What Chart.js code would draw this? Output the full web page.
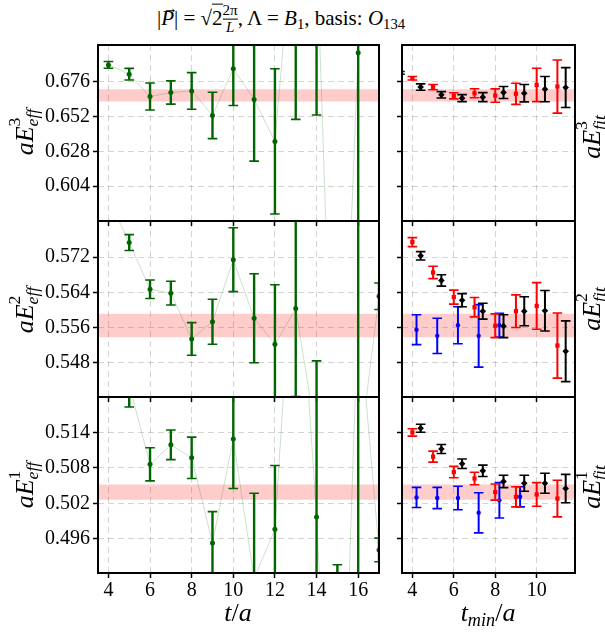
<!DOCTYPE html>
<html>
<head>
<meta charset="utf-8">
<script src="https://cdn.jsdelivr.net/npm/chart.js@4.4.1/dist/chart.umd.min.js"></script>
<style>
body { margin: 0; background: #fff; }
#fig { position: relative; width: 605px; height: 635px; overflow: hidden; font-family: "Liberation Serif", "DejaVu Serif", serif; color: #000; }
#fig canvas { position: absolute; }
.lbl { position: absolute; white-space: nowrap; line-height: 1; transform: translate(-50%, -50%); }
.rot { transform: translate(-50%, -50%) rotate(-90deg); }
.ax { font-size: 26px; }
.ss { display: inline-block; vertical-align: -0.3em; font-size: 0.68em; line-height: 1; text-align: left; }
.ss span { display: block; }
sub { font-size: 0.7em; vertical-align: -0.3em; line-height: 0; }
.vec { position: relative; display: inline-block; }
.arr { position: absolute; left: 0.12em; top: -0.5em; font-size: 0.7em; }
.ovl { border-top: 1px solid #000; padding-top: 1px; }
.frac { display: inline-block; vertical-align: -0.45em; font-size: 0.72em; text-align: center; line-height: 1.05; }
.frac span { display: block; }
.frac .num { border-bottom: 1px solid #000; }
</style>
</head>
<body>
<div id="fig">
  <div class="lbl" style="left:281px;top:19px;font-size:21px">|<span class="vec"><i>P</i><span class="arr">&rarr;</span></span>| = &radic;<span class="ovl">2</span><span class="frac"><span class="num">2&pi;</span><span><i>L</i></span></span>, &Lambda; = <i>B</i><sub>1</sub>, basis: <i>O</i><sub>134</sub></div>

  <canvas id="eff3" width="390" height="216" style="left:0px;top:25px"></canvas>
  <canvas id="eff2" width="390" height="216" style="left:0px;top:201px"></canvas>
  <canvas id="eff1" width="390" height="240" style="left:0px;top:377px"></canvas>
  <canvas id="fit3" width="225" height="216" style="left:380px;top:25px"></canvas>
  <canvas id="fit2" width="225" height="216" style="left:380px;top:201px"></canvas>
  <canvas id="fit1" width="225" height="240" style="left:380px;top:377px"></canvas>

  <div class="lbl rot ax" style="left:24px;top:132px"><i>aE</i><span class="ss"><span>3</span><span><i>eff</i></span></span></div>
  <div class="lbl rot ax" style="left:24px;top:310px"><i>aE</i><span class="ss"><span>2</span><span><i>eff</i></span></span></div>
  <div class="lbl rot ax" style="left:24px;top:485px"><i>aE</i><span class="ss"><span>1</span><span><i>eff</i></span></span></div>
  <div class="lbl rot ax" style="left:591px;top:137px"><i>aE</i><span class="ss"><span>3</span><span><i>fit</i></span></span></div>
  <div class="lbl rot ax" style="left:591px;top:309px"><i>aE</i><span class="ss"><span>2</span><span><i>fit</i></span></span></div>
  <div class="lbl rot ax" style="left:591px;top:487px"><i>aE</i><span class="ss"><span>1</span><span><i>fit</i></span></span></div>

  <div class="lbl ax" style="left:238px;top:613px"><i>t</i>/<i>a</i></div>
  <div class="lbl ax" style="left:488px;top:613px"><i>t</i><sub><i>min</i></sub>/<i>a</i></div>
</div>

<script>
// effective masses vs t/a
const tEff = [4, 5, 6, 7, 8, 9, 10, 11, 12, 13, 14, 15, 16, 17];
const eff3 = [0.6875, 0.6811, 0.6657, 0.6685, 0.6696, 0.6527, 0.6849, 0.6637, 0.6348, 0.80, 0.77, 0.34, 0.6959, null];
const eff3Err = [0.0023, 0.004, 0.0093, 0.008, 0.0126, 0.016, 0.0254, 0.0425, 0.050, 0.15, 0.117, 0.10, 0.25, 0];
const eff2 = [0.5853, 0.5753, 0.5647, 0.5638, 0.5534, 0.5573, 0.5714, 0.5581, 0.5522, 0.5603, 0.5306, 0.515, 0.525, 0.5631];
const eff2Err = [0.0012, 0.0018, 0.0021, 0.0027, 0.0037, 0.0051, 0.00725, 0.0101, 0.0135, 0.020, 0.0178, 0.012, 0.06, 0.003];
const eff1 = [0.528, 0.522, 0.5086, 0.5119, 0.5097, 0.4953, 0.5129, 0.4893, 0.4976, 0.5536, 0.4997, 0.43, 0.535, 0.4941];
const eff1Err = [0.0015, 0.0037, 0.0028, 0.0025, 0.0035, 0.0053, 0.0084, 0.0144, 0.0108, 0.02, 0.025, 0.0616, 0.06, 0.002];

// fit results vs t_min/a
const tFit = [4, 5, 6, 7, 8, 9, 10, 11];
const tFitBlack3 = [3, 4, 5, 6, 7, 8, 9, 10, 11];
const tBlue2 = [4, 5, 6, 7, 8];
const tBlue1 = [4, 5, 6, 7, 8, 9];

const red3 = [0.6783, 0.6722, 0.6662, 0.668, 0.6664, 0.6676, 0.6737, 0.6726];
const red3Err = [0.0012, 0.0018, 0.0021, 0.0031, 0.0046, 0.0073, 0.0115, 0.0183];
const black3 = [0.682, 0.6722, 0.6669, 0.6646, 0.6653, 0.6685, 0.668, 0.6708, 0.6719];
const black3Err = [0.0009, 0.0022, 0.0022, 0.0024, 0.0031, 0.0041, 0.006, 0.0087, 0.0137];

const red2 = [0.5754, 0.5685, 0.5629, 0.5606, 0.5564, 0.5597, 0.5609, 0.5519];
const red2Err = [0.00103, 0.0014, 0.0016, 0.0022, 0.0027, 0.0037, 0.0053, 0.0074];
const black2 = [0.5723, 0.5667, 0.5622, 0.5597, 0.5563, 0.5597, 0.5598, 0.5506];
const black2Err = [0.00095, 0.0013, 0.0015, 0.0018, 0.0026, 0.0033, 0.0046, 0.0069];
const blue2 = [0.5555, 0.5541, 0.5565, 0.5541, 0.5565];
const blue2Err = [0.0034, 0.004, 0.0042, 0.0071, 0.0027];

const red1 = [0.514, 0.5099, 0.5073, 0.5062, 0.5039, 0.5031, 0.5035, 0.5028];
const red1Err = [0.00063, 0.00093, 0.00096, 0.00105, 0.00136, 0.0017, 0.002, 0.0031];
const black1 = [0.5147, 0.5112, 0.5087, 0.5075, 0.5057, 0.5054, 0.5054, 0.5045];
const black1Err = [0.00068, 0.00076, 0.0008, 0.00096, 0.00105, 0.00136, 0.0017, 0.0024];
const blue1 = [0.503, 0.5029, 0.5029, 0.5004, 0.5025, 0.5031];
const blue1Err = [0.0017, 0.0018, 0.002, 0.0034, 0.003, 0.0017];

// final fit bands [low, high]
const band3 = [0.6623, 0.6708];
const band2 = [0.5538, 0.5591];
const band1 = [0.5026, 0.5052];

// ticks
const xTicksEff = [4, 6, 8, 10, 12, 14, 16];
const xTicksFit = [4, 6, 8, 10];
const yTicks3 = [0.604, 0.628, 0.652, 0.676];
const yTicks2 = [0.548, 0.556, 0.564, 0.572];
const yTicks1 = [0.496, 0.502, 0.508, 0.514];

const effRange = [3.5, 17];
const fitRange = [3.5, 11.85];
const blueShift = 0.2, blackShift = 0.4;

const tickFont = { family: '"Liberation Serif", "DejaVu Serif", serif', size: 20 };
const green = '#006400';

const errorBars = {
    id: 'errorBars',
    beforeDatasetDraw(chart, args) {
        const ds = chart.data.datasets[args.index];
        if (!ds.errors) return;
        const ctx = chart.ctx, a = chart.chartArea;
        const xs = chart.scales.x, ys = chart.scales.y;
        ctx.save();
        ctx.beginPath();
        ctx.rect(a.left, a.top, a.right - a.left, a.bottom - a.top);
        ctx.clip();
        ctx.strokeStyle = ds.borderColor;
        ds.data.forEach((p, i) => {
            if (p.y == null) return;
            const px = xs.getPixelForValue(p.x);
            const hi = ys.getPixelForValue(p.y + ds.errors[i]);
            const lo = ys.getPixelForValue(p.y - ds.errors[i]);
            ctx.lineWidth = ds.errWidth;
            ctx.beginPath();
            ctx.moveTo(px, hi);
            ctx.lineTo(px, lo);
            ctx.stroke();
            ctx.lineWidth = 1.6;
            ctx.beginPath();
            ctx.moveTo(px - 4.8, hi); ctx.lineTo(px + 4.8, hi);
            ctx.moveTo(px - 4.8, lo); ctx.lineTo(px + 4.8, lo);
            ctx.stroke();
        });
        ctx.restore();
    }
};

const frame = {
    id: 'frame',
    afterDraw(chart) {
        const a = chart.chartArea, ctx = chart.ctx;
        ctx.save();
        ctx.strokeStyle = '#000';
        ctx.lineWidth = 2;
        ctx.strokeRect(a.left, a.top, a.right - a.left, a.bottom - a.top);
        ctx.restore();
    }
};

function pts(xs, ys, shift) {
    return xs.map((x, i) => ({ x: x + (shift || 0), y: ys[i] }));
}

function bandSet(band, xr) {
    return {
        type: 'line',
        data: [{ x: xr[0], y: band[1] }, { x: xr[1], y: band[1] }],
        fill: { value: band[0] },
        backgroundColor: 'rgba(255,0,0,0.2)',
        borderColor: 'rgba(0,0,0,0)',
        borderWidth: 0,
        pointRadius: 0,
        order: 5
    };
}

function errSet(xs, ys, errs, color, style, r, shift, order) {
    return {
        type: 'scatter',
        data: pts(xs, ys, shift),
        errors: errs,
        errWidth: 2,
        backgroundColor: color,
        borderColor: color,
        borderWidth: 0,
        pointStyle: style,
        pointRadius: r,
        clip: 0,
        order: order
    };
}

function effSets(ys, errs, band) {
    const s = errSet(tEff, ys, errs, green, 'circle', 2.5, 0, 1);
    s.errWidth = 2.4;
    return [
        bandSet(band, effRange),
        {
            type: 'line',
            data: pts(tEff, ys),
            borderColor: 'rgba(0,100,0,0.2)',
            borderWidth: 1,
            pointRadius: 0,
            fill: false,
            spanGaps: false,
            order: 4
        },
        s
    ];
}

function panel(id, c) {
    const gridOpts = {
        color: 'rgba(0,0,0,0.17)',
        lineWidth: 1,
        drawTicks: true,
        tickLength: 5,
        tickColor: '#000',
        tickWidth: 1.5,
        tickBorderDash: []
    };
    return new Chart(document.getElementById(id), {
        type: 'scatter',
        data: { datasets: c.datasets },
        options: {
            responsive: false,
            animation: false,
            events: [],
            layout: { padding: { left: 0, top: 20, right: c.padRight, bottom: c.padBottom } },
            plugins: { legend: { display: false }, tooltip: { enabled: false } },
            scales: {
                x: {
                    type: 'linear',
                    min: c.x[0],
                    max: c.x[1],
                    afterBuildTicks: s => { s.ticks = c.xTicks.map(v => ({ value: v })); },
                    afterFit: s => { s.height = c.xAxisH; },
                    ticks: { display: c.xLabels, font: tickFont, color: '#000', padding: 1, maxRotation: 0, autoSkip: false },
                    grid: gridOpts,
                    border: { display: false, dash: [6, 4] }
                },
                y: {
                    type: 'linear',
                    min: c.y[0],
                    max: c.y[1],
                    afterBuildTicks: s => { s.ticks = c.yTicks.map(v => ({ value: v })); },
                    afterFit: s => { s.width = c.yAxisW; },
                    ticks: { display: c.yLabels, font: tickFont, color: '#000', padding: 3, autoSkip: false,
                             callback: v => v.toFixed(3) },
                    grid: gridOpts,
                    border: { display: false, dash: [6, 4] }
                }
            }
        },
        plugins: [errorBars, frame]
    });
}

const left = { x: effRange, xTicks: xTicksEff, padRight: 11, yAxisW: 98, yLabels: true };
const right = { x: fitRange, xTicks: xTicksFit, padRight: 30, yAxisW: 22, yLabels: false };
const upper = { xAxisH: 6, padBottom: 14, xLabels: false };
const lower = { xAxisH: 44, padBottom: 0, xLabels: true };

panel('eff3', Object.assign({}, left, upper, { y: [0.580, 0.7012], yTicks: yTicks3, datasets: effSets(eff3, eff3Err, band3) }));
panel('eff2', Object.assign({}, left, upper, { y: [0.5402, 0.5802], yTicks: yTicks2, datasets: effSets(eff2, eff2Err, band2) }));
panel('eff1', Object.assign({}, left, lower, { y: [0.4902, 0.5200], yTicks: yTicks1, datasets: effSets(eff1, eff1Err, band1) }));

panel('fit3', Object.assign({}, right, upper, { y: [0.580, 0.7012], yTicks: yTicks3, datasets: [
    bandSet(band3, fitRange),
    errSet(tFit, red3, red3Err, 'red', 'rect', 3, 0, 2),
    errSet(tFitBlack3, black3, black3Err, 'black', 'rectRot', 3.3, blackShift, 1)
] }));
panel('fit2', Object.assign({}, right, upper, { y: [0.5402, 0.5802], yTicks: yTicks2, datasets: [
    bandSet(band2, fitRange),
    errSet(tFit, red2, red2Err, 'red', 'rect', 3, 0, 2),
    errSet(tFit, black2, black2Err, 'black', 'rectRot', 3.3, blackShift, 1),
    errSet(tBlue2, blue2, blue2Err, 'blue', 'circle', 2.2, blueShift, 3)
] }));
panel('fit1', Object.assign({}, right, lower, { y: [0.4902, 0.5200], yTicks: yTicks1, datasets: [
    bandSet(band1, fitRange),
    errSet(tFit, red1, red1Err, 'red', 'rect', 3, 0, 2),
    errSet(tFit, black1, black1Err, 'black', 'rectRot', 3.3, blackShift, 1),
    errSet(tBlue1, blue1, blue1Err, 'blue', 'circle', 2.2, blueShift, 3)
] }));
</script>
</body>
</html>
